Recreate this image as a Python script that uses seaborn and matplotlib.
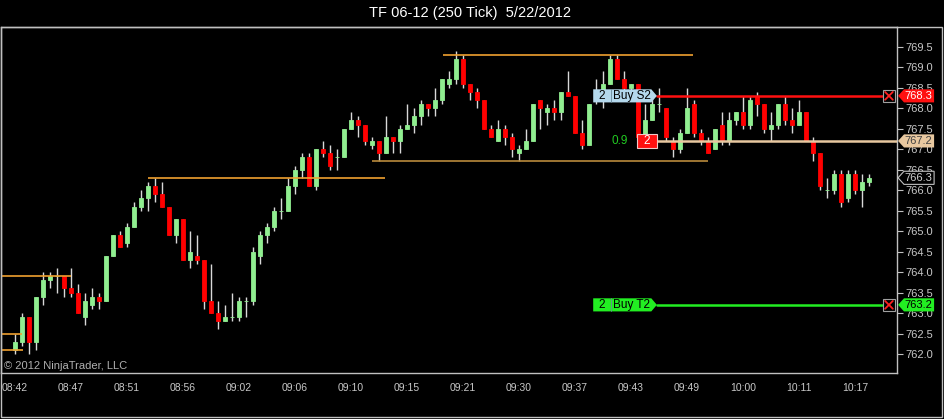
import pandas as pd
import matplotlib
matplotlib.use("Agg")
import matplotlib.pyplot as plt
import seaborn as sns
from matplotlib.patches import Polygon, Rectangle

# --- chart data ---
TITLE = "TF 06-12 (250 Tick)  5/22/2012"

opens = [762.1, 762.3, 762.9, 762.3, 763.4, 763.8, 763.9, 763.9, 763.6, 763.5,
         762.9, 763.2, 763.4, 763.3, 764.4, 764.9, 764.7, 765.1, 765.6, 765.8,
         766.1, 765.9, 765.6, 764.9, 765.3, 764.3, 764.4, 764.3, 763.3, 763.0,
         762.8, 762.9, 762.9, 763.3, 763.3, 764.4, 764.9, 765.1, 765.5, 765.5,
         766.1, 766.5, 766.8, 766.1, 767.0, 766.9, 766.8, 766.8, 767.5, 767.7,
         767.6, 767.1, 767.2, 766.9, 767.3, 767.2, 767.5, 767.6, 767.8, 768.1,
         768.0, 768.2, 768.6, 768.7, 769.2, 768.6, 768.4, 768.2, 767.5, 767.2,
         767.5, 767.3, 766.9, 767.0, 767.2, 768.2, 767.9, 768.0, 767.9, 768.4,
         768.3, 767.4, 767.1, 768.2, 768.4, 768.6, 769.2, 768.7, 768.5, 768.6,
         767.3, 767.7, 768.1, 768.0, 767.2, 767.0, 767.4, 768.1, 767.4, 767.2,
         767.0, 767.6, 767.2, 767.7, 767.9, 767.6, 768.3, 768.1, 767.5, 767.6,
         768.1, 767.7, 767.6, 767.9, 767.2, 766.9, 766.0, 766.0, 766.4, 765.8,
         766.4, 766.0, 766.2]
highs = [762.5, 763.0, 762.9, 763.4, 764.0, 764.0, 764.1, 763.9, 764.1, 763.7,
         763.5, 763.6, 763.5, 764.4, 764.9, 765.0, 765.2, 765.7, 766.0, 766.2,
         766.3, 766.2, 765.6, 765.3, 765.3, 765.0, 764.9, 764.3, 764.2, 763.3,
         763.2, 763.5, 763.4, 763.4, 764.6, 765.0, 765.2, 765.6, 765.8, 766.3,
         766.6, 766.9, 766.9, 767.0, 767.2, 767.1, 767.0, 767.5, 767.9, 767.8,
         767.6, 767.3, 767.2, 767.8, 767.3, 767.6, 768.1, 768.0, 768.2, 768.1,
         768.5, 768.7, 768.9, 769.4, 769.3, 768.6, 768.5, 768.2, 767.6, 767.7,
         767.6, 767.4, 767.1, 767.5, 768.1, 768.2, 768.1, 768.2, 768.4, 768.9,
         768.3, 767.7, 768.1, 768.7, 768.9, 769.3, 769.3, 768.9, 768.6, 768.6,
         768.1, 768.3, 768.5, 768.0, 767.3, 767.5, 768.5, 768.2, 767.5, 767.3,
         767.5, 767.9, 767.9, 767.9, 768.3, 768.3, 768.4, 768.1, 767.9, 768.1,
         768.3, 768.0, 768.2, 767.9, 767.3, 766.9, 766.3, 766.5, 766.5, 766.5,
         766.5, 766.4, 766.4]
lows = [762.0, 762.2, 762.0, 762.1, 763.2, 763.6, 763.5, 763.4, 763.4, 763.0,
        762.7, 763.1, 763.1, 763.3, 764.4, 764.6, 764.6, 765.1, 765.5, 765.5,
        765.7, 765.6, 764.9, 764.7, 764.3, 764.1, 764.2, 763.1, 763.0, 762.6,
        762.8, 762.8, 762.8, 762.9, 763.2, 764.2, 764.7, 765.0, 765.3, 765.5,
        765.9, 766.3, 766.1, 766.0, 766.8, 766.5, 766.5, 766.8, 767.5, 767.3,
        767.1, 767.0, 766.7, 766.9, 766.9, 766.9, 767.5, 767.4, 767.6, 767.8,
        767.8, 768.1, 768.5, 768.6, 768.5, 768.2, 768.0, 767.5, 767.3, 767.2,
        767.1, 766.8, 766.7, 767.0, 767.2, 767.5, 767.6, 767.7, 767.7, 768.3,
        767.4, 767.0, 767.1, 768.1, 768.0, 768.6, 768.7, 768.4, 768.4, 767.3,
        767.2, 767.7, 767.9, 767.2, 766.8, 766.9, 767.4, 767.3, 767.1, 766.9,
        767.0, 767.1, 767.1, 767.6, 767.5, 767.5, 767.8, 767.4, 767.2, 767.5,
        767.6, 767.4, 767.6, 767.2, 766.7, 766.0, 765.8, 765.9, 765.6, 765.7,
        765.9, 765.6, 766.1]
closes = [762.3, 762.9, 762.3, 763.4, 763.8, 763.9, 763.9, 763.6, 763.5, 763.0,
          763.3, 763.4, 763.3, 764.4, 764.9, 764.6, 765.1, 765.6, 765.8, 766.1,
          765.9, 765.6, 764.9, 765.3, 764.3, 764.5, 764.3, 763.3, 763.0, 762.8,
          762.9, 762.9, 763.3, 763.3, 764.5, 764.9, 765.1, 765.5, 765.5, 766.1,
          766.5, 766.8, 766.1, 767.0, 766.9, 766.6, 766.8, 767.5, 767.7, 767.6,
          767.2, 767.2, 766.9, 767.3, 767.2, 767.5, 767.6, 767.8, 768.1, 768.0,
          768.2, 768.7, 768.7, 769.2, 768.6, 768.4, 768.2, 767.5, 767.3, 767.5,
          767.3, 767.0, 767.0, 767.2, 768.1, 768.0, 768.0, 767.9, 768.4, 768.3,
          767.4, 767.1, 768.1, 768.4, 768.6, 769.2, 768.7, 768.5, 768.6, 767.3,
          767.7, 768.1, 768.1, 767.3, 767.0, 767.4, 768.0, 767.4, 767.2, 766.9,
          767.5, 767.2, 767.7, 767.9, 767.6, 768.2, 768.1, 767.5, 767.6, 768.1,
          767.7, 767.6, 767.9, 767.2, 766.9, 766.1, 766.0, 766.4, 765.7, 766.4,
          766.0, 766.2, 766.3]

time_labels = ["08:42", "08:47", "08:51", "08:56", "09:02", "09:06", "09:10", "09:15",
               "09:21", "09:30", "09:37", "09:43", "09:49", "10:00", "10:11", "10:17"]
price_ticks = [762.0, 762.5, 763.0, 763.5, 764.0, 764.5, 765.0, 765.5,
               766.0, 766.5, 767.0, 767.5, 768.0, 768.5, 769.0, 769.5]

# drawn horizontal lines: price, first bar, last bar
hline_prices = [763.9, 762.5, 762.1, 766.3, 769.3, 766.7]
hline_starts = [-2.0, -2.0, -2.0, 19.0, 61.1, 51.0]
hline_ends = [8.0, 1.0, 1.2, 52.9, 96.9, 99.0]
hline_colors = ["#f0a030", "#f0a030", "#f0a030", "#f0a030", "#f0a030", "#b88a3c"]

# working orders / position
stop_price, stop_qty, stop_text = 768.3, "2", "Buy S2"
target_price, target_qty, target_text = 763.2, "2", "Buy T2"
entry_price, entry_qty, pnl_text = 767.2, "2", "0.9"
last_price = 766.3

df = pd.DataFrame({"open": opens, "high": highs, "low": lows, "close": closes})
df["bar"] = range(len(df))
df["up"] = df["close"] >= df["open"]

# --- style ---
sns.set_theme(style="dark", rc={
    "figure.facecolor": "black", "axes.facecolor": "black",
    "axes.edgecolor": "#c0c0c0", "axes.grid": False,
    "xtick.color": "#c8c8c8", "ytick.color": "#c8c8c8",
})
plt.rcParams["font.family"] = ["Liberation Sans", "DejaVu Sans"]

fig = plt.figure(figsize=(9.44, 4.19), dpi=100)
ax = fig.add_axes([1 / 944, 1 - 373.3 / 419, 896 / 944, 346.3 / 419])

# candles
ax.vlines(df["bar"], df["low"], df["high"], color="#d8d8d8", linewidth=1.0, zorder=2)
body_colors = ["#90ee90" if u else "#ff0000" for u in df["up"]]
ax.bar(df["bar"], (df["close"] - df["open"]).abs(), bottom=df[["open", "close"]].min(axis=1),
       width=0.66, color=body_colors, edgecolor=body_colors, linewidth=0.6, zorder=3)

# drawing lines
for p, s, e, c in zip(hline_prices, hline_starts, hline_ends, hline_colors):
    ax.plot([s, e], [p, p], color=c, linewidth=1.2, zorder=4, solid_capstyle="butt")

ax.set_xlim(-2.0, 126.0)
ax.set_ylim(761.53, 769.98)

ax.set_xticks(range(0, len(df), 8))
ax.set_xticklabels(time_labels, fontsize=7.5)
ax.yaxis.tick_right()
ax.set_yticks(price_ticks)
ax.set_yticklabels([f"{v:.1f}" for v in price_ticks], fontsize=8)
ax.tick_params(axis="both", direction="out", length=4, width=0.8, color="#c0c0c0")
ax.tick_params(axis="x", pad=3)
ax.tick_params(axis="y", pad=2)
for sp in ax.spines.values():
    sp.set_color("#c0c0c0")
    sp.set_linewidth(1.0)

h = 0.16  # half height of the order tags in price units


def left_label(price, qty, text, face):
    # order label pointing right, left of the order line
    x0, x1, x2 = 82.6, 90.9, 91.7
    ax.add_patch(Polygon([(x0, price - h), (x0, price + h), (x1, price + h), (x2, price),
                          (x1, price - h)], closed=True, facecolor=face, edgecolor="none", zorder=8))
    ax.plot([85.15, 85.15], [price - h, price + h], color="#6a8a9a", linewidth=0.6, zorder=9)
    ax.text(83.85, price, qty, fontsize=8.5, color="black", ha="center", va="center", zorder=10)
    ax.text(88.1, price, text, fontsize=8.5, color="black", ha="center", va="center", zorder=10)


def right_tag(price, text, face, fg, edge="none"):
    x_tip, x_in, x_end = 126.15, 127.0, 131.3
    ax.add_patch(Polygon([(x_tip, price), (x_in, price + h), (x_end, price + h),
                          (x_end, price - h), (x_in, price - h)], closed=True, facecolor=face,
                         edgecolor=edge, linewidth=0.8, zorder=8, clip_on=False))
    ax.text(129.1, price, text, fontsize=8, color=fg, ha="center", va="center",
            zorder=10, clip_on=False)


def close_box(price):
    bx, bw, bh = 124.0, 1.7, 0.29
    ax.add_patch(Rectangle((bx, price - bh / 2), bw, bh, facecolor="black",
                           edgecolor="#a0a0a0", linewidth=0.8, zorder=9, clip_on=False))
    ax.plot([bx + 0.3, bx + bw - 0.3], [price - bh / 2 + 0.05, price + bh / 2 - 0.05],
            color="#ff2020", linewidth=1.3, zorder=10, clip_on=False)
    ax.plot([bx + 0.3, bx + bw - 0.3], [price + bh / 2 - 0.05, price - bh / 2 + 0.05],
            color="#ff2020", linewidth=1.3, zorder=10, clip_on=False)


# stop order
ax.plot([91.7, 124.0], [stop_price, stop_price], color="#ff1010", linewidth=1.8, zorder=6)
left_label(stop_price, stop_qty, stop_text, "#b4d8ec")
close_box(stop_price)
right_tag(stop_price, f"{stop_price:.1f}", "#ff1010", "white")

# target order
ax.plot([91.7, 124.0], [target_price, target_price], color="#22ee22", linewidth=1.8, zorder=6)
left_label(target_price, target_qty, target_text, "#22ee22")
close_box(target_price)
right_tag(target_price, f"{target_price:.1f}", "#22ee22", "black")

# position line
ax.plot([91.7, 126.0], [entry_price, entry_price], color="#e8c8a0", linewidth=1.8, zorder=6)
ax.add_patch(Rectangle((88.86, entry_price - 0.165), 2.84, 0.33, facecolor="#ff1010",
                       edgecolor="#f0c8c8", linewidth=0.8, zorder=8))
ax.text(90.28, entry_price, entry_qty, fontsize=8.5, color="white", ha="center", va="center", zorder=10)
ax.text(87.6, entry_price, pnl_text, fontsize=8.5, color="#22cc22", ha="right", va="center", zorder=10)
right_tag(entry_price, f"{entry_price:.1f}", "#e8c8a0", "#404040")

# last price marker
right_tag(last_price, f"{last_price:.1f}", "black", "#d0d0d0", edge="#c0c0c0")

ax.text(0.003, 0.02, "\u00a9 2012 NinjaTrader, LLC", transform=ax.transAxes, fontsize=8,
        color="#b0b0b0", ha="left", va="center")

# outer frame and title
fig.add_artist(Rectangle((1 / 944, 2 / 419), 941 / 944, 390 / 419, transform=fig.transFigure,
                         fill=False, edgecolor="#c0c0c0", linewidth=1.0))
fig.text(0.498, 1 - 13 / 419, TITLE, color="white", fontsize=10.5, ha="center", va="center")

fig.savefig("out.png", dpi=100, facecolor="black")
